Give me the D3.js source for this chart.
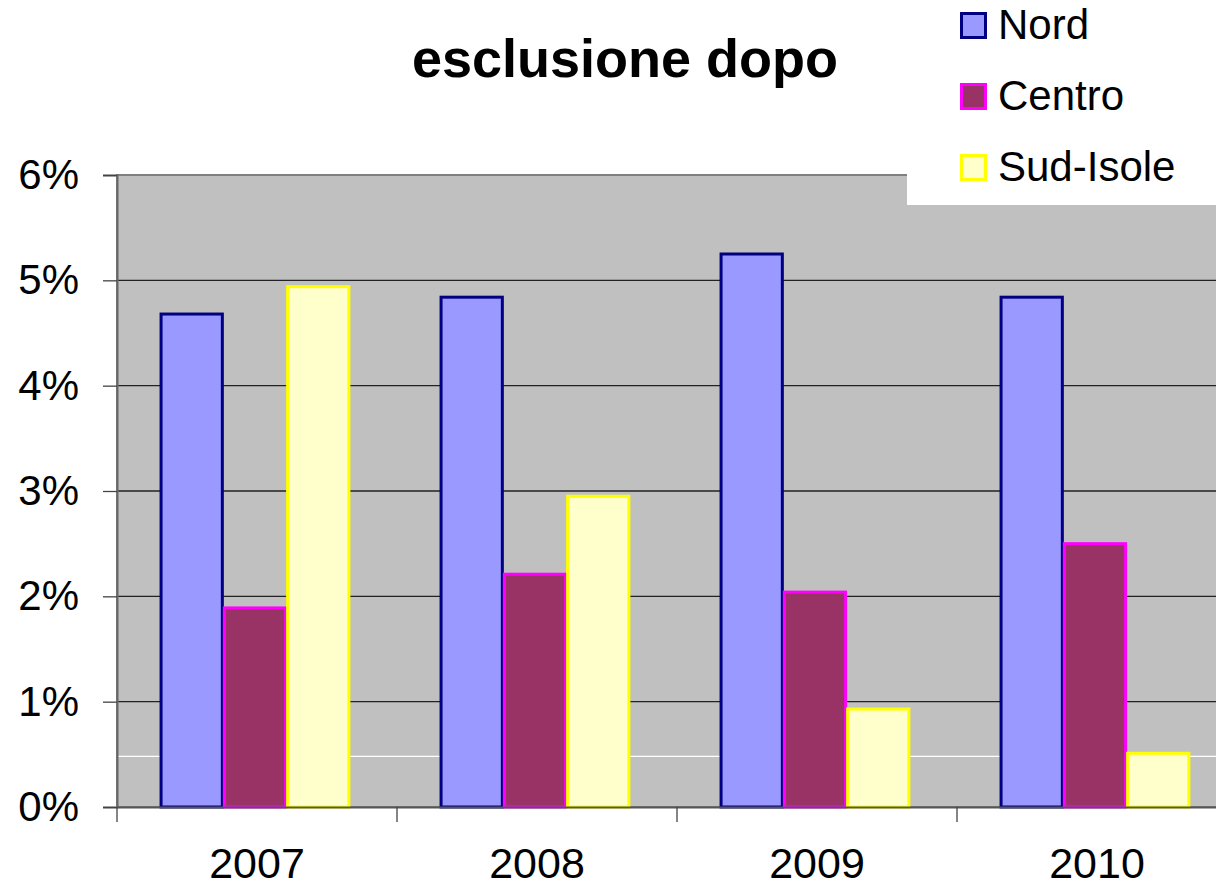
<!DOCTYPE html>
<html>
<head>
<meta charset="utf-8">
<script src="https://cdn.jsdelivr.net/npm/d3@7"></script>
<style>
	body { margin: 0; background: #fff; }
	svg { display: block; font-family: "Liberation Sans", Arial, sans-serif; }
</style>
</head>
<body>
<svg width="1216" height="891"></svg>
<script>
	var years = ['2007', '2008', '2009', '2010'];
	var seriesNames = ['Nord', 'Centro', 'Sud-Isole'];
	var nord = [0.0468, 0.0484, 0.0525, 0.0484];
	var centro = [0.0189, 0.0221, 0.0204, 0.0250];
	var sudIsole = [0.0494, 0.0295, 0.0093, 0.0051];
	var yTicks = [0, 0.01, 0.02, 0.03, 0.04, 0.05, 0.06];

	var fills = ['#9999ff', '#993366', '#ffffcc'];
	var strokes = ['#000080', '#ff00ff', '#ffff00'];
	var values = [nord, centro, sudIsole];

	var margin = {top: 175, left: 117, bottom: 84},
		width = 1237 - margin.left,
		height = 891 - margin.top - margin.bottom;

	var svg = d3.select('svg');
	var g = svg.append('g')
		.attr('transform', 'translate(' + margin.left + ',' + margin.top + ')');

	var x = d3.scaleBand().domain(years).range([0, width]).paddingInner(0).paddingOuter(0);
	var xInner = d3.scaleBand().domain(seriesNames)
		.range([x.bandwidth() * 0.152, x.bandwidth() * 0.83]);
	var y = d3.scaleLinear().domain([0, 0.06]).range([height, 0]);

	// plot area
	g.append('rect')
		.attr('width', width).attr('height', height)
		.attr('fill', '#c0c0c0')
		.attr('stroke', '#808080').attr('stroke-width', 2);

	// gridlines
	g.selectAll('.grid')
		.data(yTicks.slice(1, -1))
		.enter().append('line')
		.attr('x1', 0).attr('x2', width)
		.attr('y1', function(d) { return y(d); })
		.attr('y2', function(d) { return y(d); })
		.attr('stroke', '#222').attr('stroke-width', 1.3);

	g.append('line')
		.attr('x1', 0).attr('x2', width)
		.attr('y1', y(0.0048)).attr('y2', y(0.0048))
		.attr('stroke', '#fff').attr('stroke-width', 1.3);

	// bars
	seriesNames.forEach(function(name, si) {
		g.selectAll('.bar' + si)
			.data(values[si])
			.enter().append('rect')
			.attr('x', function(d, i) { return x(years[i]) + xInner(name) + 1.5; })
			.attr('y', function(d) { return y(d); })
			.attr('width', xInner.bandwidth() - 2)
			.attr('height', function(d) { return height - y(d); })
			.attr('fill', fills[si])
			.attr('stroke', strokes[si])
			.attr('stroke-width', 3);
	});

	// axes
	var yAxis = g.append('g')
		.call(d3.axisLeft(y).tickValues(yTicks).tickFormat(d3.format('.0%')).tickSize(14).tickPadding(24));
	yAxis.select('.domain').attr('stroke', '#666').attr('stroke-width', 2);
	yAxis.selectAll('.tick line').attr('stroke', '#444').attr('stroke-width', 1.3);
	yAxis.selectAll('text').attr('font-size', 42).attr('fill', '#000');

	var xAxis = g.append('g')
		.attr('transform', 'translate(0,' + height + ')')
		.call(d3.axisBottom(x).tickSize(0).tickPadding(40));
	xAxis.select('.domain').attr('stroke', '#555').attr('stroke-width', 2);
	xAxis.selectAll('text').attr('font-size', 43).attr('fill', '#000');
	xAxis.selectAll('.sep')
		.data(years)
		.enter().append('line')
		.attr('x1', function(d) { return x(d); })
		.attr('x2', function(d) { return x(d); })
		.attr('y1', 0).attr('y2', 15)
		.attr('stroke', '#444').attr('stroke-width', 1.3);

	// title
	svg.append('text')
		.attr('x', 625).attr('y', 77)
		.attr('text-anchor', 'middle')
		.attr('font-size', 54).attr('font-weight', 'bold')
		.text('esclusione dopo');

	// legend
	svg.append('rect')
		.attr('x', 907).attr('y', 0).attr('width', 309).attr('height', 205)
		.attr('fill', '#fff');
	var legend = svg.selectAll('.legend')
		.data(seriesNames)
		.enter().append('g')
		.attr('transform', function(d, i) { return 'translate(960,' + (12 + i * 71) + ')'; });
	legend.append('rect')
		.attr('x', 1.5).attr('y', 1.5).attr('width', 24).attr('height', 24)
		.attr('fill', function(d, i) { return fills[i]; })
		.attr('stroke', function(d, i) { return strokes[i]; })
		.attr('stroke-width', 3);
	legend.append('text')
		.attr('x', 38).attr('y', 27)
		.attr('font-size', 42)
		.text(function(d) { return d; });
</script>
</body>
</html>
